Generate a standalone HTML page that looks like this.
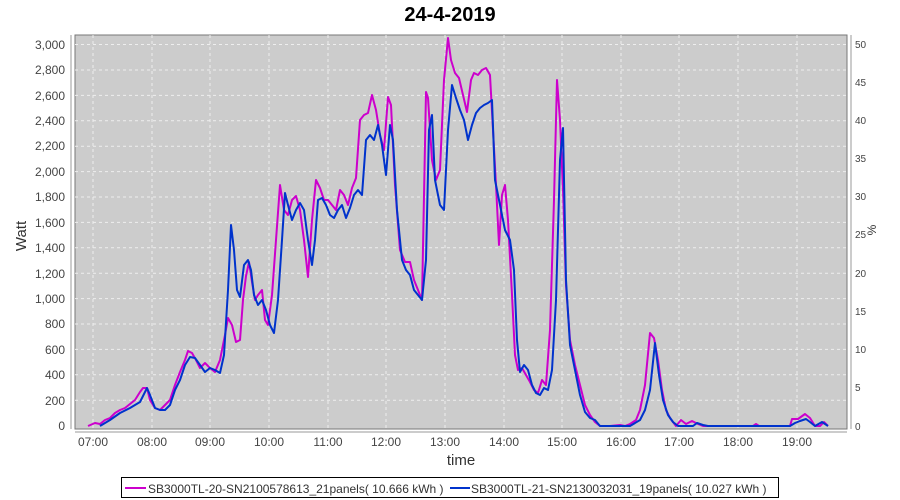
<!DOCTYPE html>
<html><head><meta charset="utf-8"><style>
body{margin:0;background:#fff;}
svg{display:block;font-family:"Liberation Sans",sans-serif;}
</style></head><body>
<svg width="900" height="500" xmlns="http://www.w3.org/2000/svg">
<text x="450" y="21" text-anchor="middle" font-size="20" font-weight="bold">24-4-2019</text>
<rect x="75" y="35" width="772" height="394" fill="#cccccc" stroke="#777" stroke-width="1"/>
<g stroke="#eeeeee" stroke-dasharray="3,3" stroke-width="1">
<line x1="75" x2="847" y1="44.5" y2="44.5"/><line x1="75" x2="847" y1="70" y2="70"/><line x1="75" x2="847" y1="95.4" y2="95.4"/><line x1="75" x2="847" y1="120.8" y2="120.8"/><line x1="75" x2="847" y1="146.2" y2="146.2"/><line x1="75" x2="847" y1="171.6" y2="171.6"/><line x1="75" x2="847" y1="197" y2="197"/><line x1="75" x2="847" y1="222.4" y2="222.4"/><line x1="75" x2="847" y1="247.8" y2="247.8"/><line x1="75" x2="847" y1="273.2" y2="273.2"/><line x1="75" x2="847" y1="298.6" y2="298.6"/><line x1="75" x2="847" y1="324" y2="324"/><line x1="75" x2="847" y1="349.4" y2="349.4"/><line x1="75" x2="847" y1="374.8" y2="374.8"/><line x1="75" x2="847" y1="400.2" y2="400.2"/>
<line y1="35" y2="429" x1="93" x2="93"/><line y1="35" y2="429" x1="152" x2="152"/><line y1="35" y2="429" x1="210" x2="210"/><line y1="35" y2="429" x1="269" x2="269"/><line y1="35" y2="429" x1="328" x2="328"/><line y1="35" y2="429" x1="386" x2="386"/><line y1="35" y2="429" x1="445" x2="445"/><line y1="35" y2="429" x1="504" x2="504"/><line y1="35" y2="429" x1="562" x2="562"/><line y1="35" y2="429" x1="621" x2="621"/><line y1="35" y2="429" x1="679" x2="679"/><line y1="35" y2="429" x1="738" x2="738"/><line y1="35" y2="429" x1="797" x2="797"/>
</g>
<line x1="71" y1="35" x2="71" y2="429" stroke="#999"/>
<line x1="75" y1="432" x2="847" y2="432" stroke="#999"/>
<line x1="851" y1="35" x2="851" y2="429" stroke="#999"/>
<g font-size="12" fill="#444" text-anchor="end">
<text x="65" y="49">3,000</text><text x="65" y="74">2,800</text><text x="65" y="100">2,600</text><text x="65" y="125">2,400</text><text x="65" y="150">2,200</text><text x="65" y="176">2,000</text><text x="65" y="201">1,800</text><text x="65" y="227">1,600</text><text x="65" y="252">1,400</text><text x="65" y="278">1,200</text><text x="65" y="303">1,000</text><text x="65" y="328">800</text><text x="65" y="354">600</text><text x="65" y="379">400</text><text x="65" y="405">200</text><text x="65" y="430">0</text>
</g>
<g font-size="10" fill="#444">
<text x="855" y="48">50</text><text x="855" y="124">40</text><text x="855" y="162">35</text><text x="855" y="86">45</text><text x="855" y="200">30</text><text x="855" y="238">25</text><text x="855" y="277">20</text><text x="855" y="315">15</text><text x="855" y="353">10</text><text x="855" y="391">5</text><text x="855" y="430">0</text>
</g>
<g font-size="12" fill="#444" text-anchor="middle">
<text x="93" y="446">07:00</text><text x="152" y="446">08:00</text><text x="210" y="446">09:00</text><text x="269" y="446">10:00</text><text x="328" y="446">11:00</text><text x="386" y="446">12:00</text><text x="445" y="446">13:00</text><text x="504" y="446">14:00</text><text x="562" y="446">15:00</text><text x="621" y="446">16:00</text><text x="679" y="446">17:00</text><text x="738" y="446">18:00</text><text x="797" y="446">19:00</text>
</g>
<text x="461" y="465" font-size="15" text-anchor="middle" fill="#333">time</text>
<text transform="translate(26,236) rotate(-90)" font-size="15" text-anchor="middle" fill="#333">Watt</text>
<text transform="translate(876,230) rotate(-90)" font-size="12" text-anchor="middle" fill="#333">%</text>
<polyline fill="none" stroke="#cc00cc" stroke-width="2" stroke-linejoin="round" points="88,426 95,423 100,424 105,420 110,418 115,413 120,410 125,408 130,404 135,400 140,392 143,388 147,388 150,400 155,408 160,410 165,405 170,400 175,385 180,372 185,360 188,351 192,353 196,360 200,368 205,363 210,368 215,372 220,360 225,335 228,318 232,325 236,342 240,340 243,300 246,276 249,262 252,282 255,300 258,295 262,290 265,320 268,325 272,295 276,240 280,185 284,210 288,215 292,200 296,196 300,210 304,240 308,277 312,220 316,180 320,188 324,200 328,200 332,205 336,210 340,190 344,195 348,205 352,188 356,178 360,120 364,115 368,113 372,95 376,110 380,135 384,150 388,97 391,105 395,185 400,250 405,262 410,262 414,280 418,290 422,300 426,92 428,98 432,160 436,180 440,170 444,80 448,38 451,60 455,73 459,78 463,95 467,112 471,80 474,73 478,75 482,70 486,68 490,75 493,130 496,185 499,245 502,195 505,185 508,220 512,295 515,355 518,370 522,368 526,375 530,382 534,390 538,393 542,380 546,385 550,330 554,200 557,80 560,120 563,190 566,285 570,340 575,365 580,385 585,405 590,415 595,422 600,426 610,426 620,425 625,426 630,424 636,420 640,410 645,385 650,333 654,338 658,360 662,390 666,410 670,418 676,426 681,420 686,424 692,421 698,424 703,426 753,426 756,424 759,426 790,426 792,419 798,419 805,414 810,418 815,426 820,426 824,422 828,426"/>
<polyline fill="none" stroke="#0033cc" stroke-width="2" stroke-linejoin="round" points="100,426 110,420 120,413 130,408 140,402 147,388 150,395 155,408 160,410 165,410 170,405 175,390 180,380 185,365 190,357 195,358 200,365 205,372 210,368 215,370 220,373 224,355 228,290 231,225 234,250 237,290 240,297 244,265 248,260 251,270 254,295 258,305 262,300 266,310 270,325 274,333 278,300 282,240 285,193 288,205 292,220 296,210 300,203 304,210 308,240 312,265 315,240 318,200 322,198 326,205 330,215 334,218 338,210 342,205 346,218 350,208 354,195 358,190 362,195 366,140 370,135 374,140 378,125 382,145 386,175 390,125 393,140 397,210 402,260 406,270 410,275 414,290 418,295 422,300 426,260 429,130 432,115 435,180 440,205 444,210 448,130 452,85 456,98 460,110 464,120 468,140 472,125 476,113 480,108 484,105 488,103 492,100 495,180 500,205 505,230 510,240 514,270 517,340 520,372 524,365 528,370 532,385 536,393 540,395 544,388 548,390 552,370 556,300 560,160 563,128 566,280 570,345 575,370 580,395 585,412 590,418 595,420 600,426 630,426 640,420 645,410 650,390 655,343 659,375 663,400 668,415 673,422 678,426 693,426 697,423 703,425 708,426 790,426 795,423 800,421 806,419 810,422 815,426 822,422 828,426"/>
<rect x="121.5" y="477.5" width="657" height="20" fill="#fff" stroke="#000"/>
<line x1="125" y1="488" x2="146" y2="488" stroke="#cc00cc" stroke-width="2"/>
<text x="148" y="493" font-size="12" fill="#333">SB3000TL-20-SN2100578613_21panels( 10.666 kWh )</text>
<line x1="450" y1="488" x2="470" y2="488" stroke="#0033cc" stroke-width="2"/>
<text x="471" y="493" font-size="12" fill="#333">SB3000TL-21-SN2130032031_19panels( 10.027 kWh )</text>
</svg>
</body></html>
